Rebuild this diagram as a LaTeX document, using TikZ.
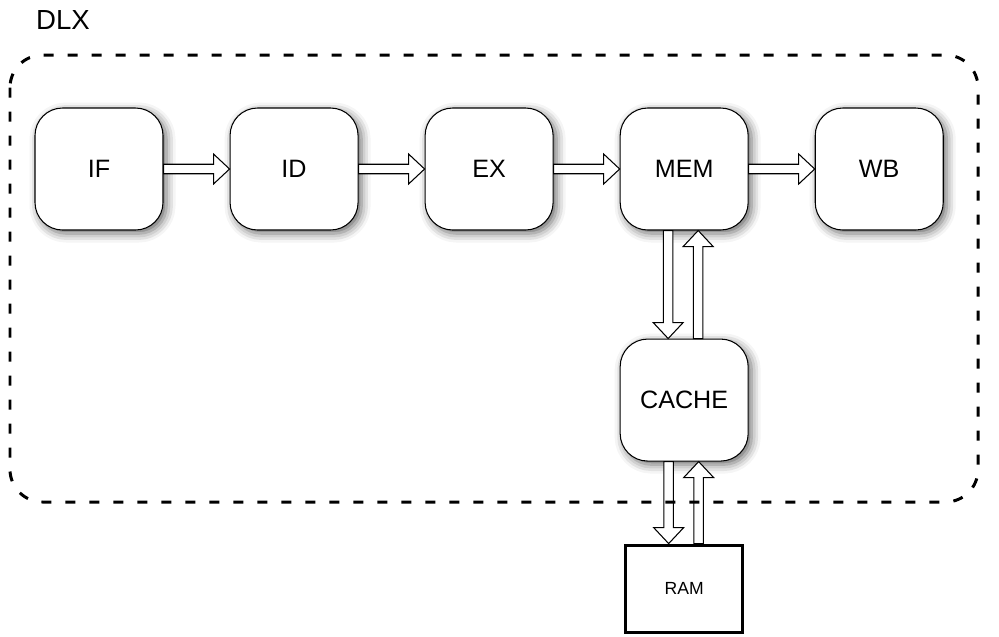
\documentclass[tikz,border=0pt]{standalone}
\usepackage{fontspec}
\setmainfont{Liberation Sans}
\usetikzlibrary{positioning,calc,shadows.blur}

% hollow block arrow from #1 to #2 (names of coordinates or nodes)
\newcommand{\blockarrow}[2]{%
  \coordinate (ba-h) at ($(#2)!0.32cm!(#1)$);
  \draw[blockarr] ($(#1)!0.095cm!90:(#2)$) -- ($(ba-h)!0.095cm!-90:(#1)$)
    -- ($(ba-h)!0.3cm!-90:(#1)$) -- (#2) -- ($(ba-h)!0.3cm!90:(#1)$)
    -- ($(ba-h)!0.095cm!90:(#1)$) -- ($(#1)!0.095cm!-90:(#2)$) -- cycle;}

\begin{document}
\begin{tikzpicture}[
    stage/.style={draw, fill=white, rounded corners=0.55cm, minimum width=2.56cm,
      minimum height=2.44cm, line width=0.6pt, font=\fontsize{14.3}{17}\selectfont,
      blur shadow={shadow xshift=0.7mm, shadow yshift=-0.7mm, shadow blur radius=1.8mm, shadow opacity=60}},
    memory/.style={draw, fill=white, line width=1.7pt, minimum width=2.34cm,
      minimum height=1.74cm, font=\fontsize{10}{12}\selectfont},
    blockarr/.style={draw, fill=white, line width=0.6pt, line join=miter},
    frame/.style={line width=1.7pt, dash pattern=on 0.2cm off 0.28cm, rounded corners=0.65cm},
    node distance=1.32cm
  ]

    \useasboundingbox (0,0) rectangle (19.98,-12.72);

    % pipeline stages
    \node[stage] (if) at (1.98,-3.38) {IF};
    \node[stage, right=of if] (id) {ID};
    \node[stage, right=of id] (ex) {EX};
    \node[stage, right=of ex] (mem) {MEM};
    \node[stage, right=of mem] (wb) {WB};

    \node[stage, below=2.16cm of mem] (cache) {CACHE};
    \node[memory, below=1.64cm of cache] (ram) {RAM};

    % stage to stage
    \blockarrow{if.east}{id.west}
    \blockarrow{id.east}{ex.west}
    \blockarrow{ex.east}{mem.west}
    \blockarrow{mem.east}{wb.west}

    % memory traffic
    \coordinate (memout) at ([xshift=-0.32cm]mem.south);
    \coordinate (memin) at ([xshift=0.28cm]mem.south);
    \coordinate (cachetop-in) at ([xshift=-0.32cm]cache.north);
    \coordinate (cachetop-out) at ([xshift=0.28cm]cache.north);
    \coordinate (cachebot-out) at ([xshift=-0.31cm]cache.south);
    \coordinate (cachebot-in) at ([xshift=0.29cm]cache.south);
    \coordinate (ramin) at ([xshift=-0.31cm]ram.north);
    \coordinate (ramout) at ([xshift=0.29cm]ram.north);

    \blockarrow{memout}{cachetop-in}
    \blockarrow{cachetop-out}{memin}
    \blockarrow{cachebot-out}{ramin}
    \blockarrow{ramout}{cachebot-in}

    % DLX boundary
    \draw[frame] (0.2,-1.1) rectangle (19.56,-10.04);
    \node[font=\fontsize{15.7}{19}\selectfont] (dlx) at (1.26,-0.4) {DLX};

\end{tikzpicture}
\end{document}
